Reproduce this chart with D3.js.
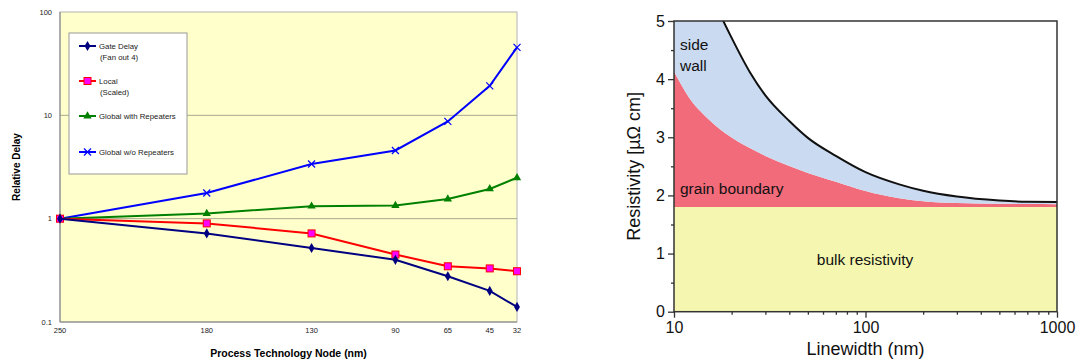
<!DOCTYPE html>
<html>
<head>
<meta charset="utf-8">
<script src="https://cdn.jsdelivr.net/npm/d3@7"></script>
<style>
  body { margin: 0; background: #fff; }
  text { font-family: "Liberation Sans", Arial, sans-serif; }
</style>
</head>
<body>
<div id="chart"></div>
<script>
// left panel: relative delay vs process node
let nodes = [250, 180, 130, 90, 65, 45, 32];
let gateDelay = [1, 0.72, 0.52, 0.40, 0.277, 0.20, 0.14];
let localScaled = [1, 0.9, 0.72, 0.45, 0.346, 0.33, 0.31];
let globalRep = [1, 1.12, 1.32, 1.34, 1.55, 1.94, 2.49];
let globalNoRep = [1, 1.77, 3.38, 4.57, 8.73, 19.3, 45.5];
let delayTicks = [0.1, 1, 10, 100];

// right panel: resistivity vs linewidth (components, stacked)
let widths = [10, 12, 15, 20, 25, 30, 40, 50, 70, 100, 150, 200, 300, 500, 700, 1000];
let bulk = [1.8, 1.8, 1.8, 1.8, 1.8, 1.8, 1.8, 1.8, 1.8, 1.8, 1.8, 1.8, 1.8, 1.8, 1.8, 1.8];
let grainBoundary = [2.33, 1.88, 1.525, 1.195, 1.01, 0.88, 0.707, 0.587, 0.435, 0.275, 0.15, 0.10, 0.068, 0.056, 0.052, 0.05];
let sideWall = [2.9, 2.68, 2.255, 1.715, 1.30, 1.04, 0.773, 0.603, 0.445, 0.325, 0.24, 0.18, 0.112, 0.056, 0.038, 0.038];
let resTicks = [0, 1, 2, 3, 4, 5];
let widthTicks = [10, 100, 1000];

let svg = d3.select("#chart").append("svg")
    .attr("width", 1079)
    .attr("height", 362);

// ---------- left chart ----------
let L = { left: 60, right: 517, top: 12, bottom: 322 };
let xL = d3.scaleLinear().domain([250, 32]).range([L.left, L.right]);
let yL = d3.scaleLog().domain([0.1, 100]).range([L.bottom, L.top]);

let gl = svg.append("g");
gl.append("rect")
    .attr("x", L.left).attr("y", L.top)
    .attr("width", L.right - L.left).attr("height", L.bottom - L.top)
    .attr("fill", "#ffffcc")
    .attr("stroke", "#b4b4b4")
    .attr("stroke-width", 1);

// gridlines at 1 and 10
gl.selectAll(".grid").data([1, 10]).enter().append("line")
    .attr("x1", L.left).attr("x2", L.right)
    .attr("y1", d => yL(d)).attr("y2", d => yL(d))
    .attr("stroke", "#a8a890")
    .attr("stroke-width", 1);

// axes lines
gl.append("line").attr("x1", L.left).attr("x2", L.left).attr("y1", L.top).attr("y2", L.bottom)
    .attr("stroke", "#808080");
gl.append("line").attr("x1", L.left).attr("x2", L.right).attr("y1", L.bottom).attr("y2", L.bottom)
    .attr("stroke", "#808080");

gl.selectAll(".ylab").data(delayTicks).enter().append("text")
    .attr("x", L.left - 8).attr("y", d => yL(d))
    .attr("dy", "0.35em")
    .attr("text-anchor", "end")
    .attr("font-size", "7.5px")
    .attr("fill", "#222")
    .text(d => d);

gl.selectAll(".xlab").data(nodes).enter().append("text")
    .attr("x", d => xL(d)).attr("y", 330)
    .attr("dy", "0.35em")
    .attr("text-anchor", "middle")
    .attr("font-size", "7.5px")
    .attr("fill", "#222")
    .text(d => d);

gl.append("text")
    .attr("x", (L.left + L.right) / 2).attr("y", 357)
    .attr("text-anchor", "middle")
    .attr("font-size", "10.5px").attr("font-weight", "bold")
    .text("Process Technology Node (nm)");

gl.append("text")
    .attr("transform", `translate(20,${(L.top + L.bottom) / 2}) rotate(-90)`)
    .attr("text-anchor", "middle")
    .attr("font-size", "10px").attr("font-weight", "bold")
    .text("Relative Delay");

let seriesL = [
  { name: ["Gate Delay", "(Fan out 4)"], values: gateDelay, color: "#000080", marker: "diamond" },
  { name: ["Local", "(Scaled)"], values: localScaled, color: "#ff0000", marker: "square" },
  { name: ["Global with Repeaters"], values: globalRep, color: "#008000", marker: "triangle" },
  { name: ["Global w/o Repeaters"], values: globalNoRep, color: "#0000ff", marker: "cross" }
];

let lineL = d3.line()
    .x((d, i) => xL(nodes[i]))
    .y(d => yL(d));

function drawMarker(g, s, x, y) {
  if (s.marker === "diamond") {
    g.append("path").attr("d", d3.symbol(d3.symbolDiamond, 30)())
      .attr("transform", `translate(${x},${y})`).attr("fill", s.color);
  } else if (s.marker === "square") {
    g.append("rect").attr("x", x - 3.5).attr("y", y - 3.5).attr("width", 7).attr("height", 7)
      .attr("fill", "#ff00ff").attr("stroke", "#ff0000").attr("stroke-width", 1);
  } else if (s.marker === "triangle") {
    g.append("path").attr("d", d3.symbol(d3.symbolTriangle, 30)())
      .attr("transform", `translate(${x},${y})`).attr("fill", s.color);
  } else {
    g.append("path").attr("d", `M${x - 3.5},${y - 3.5}L${x + 3.5},${y + 3.5}M${x - 3.5},${y + 3.5}L${x + 3.5},${y - 3.5}`)
      .attr("stroke", s.color).attr("stroke-width", 1.2);
  }
}

// draw in reverse so gate delay ends up on top
seriesL.slice().reverse().forEach(s => {
  let g = gl.append("g");
  g.append("path").datum(s.values)
    .attr("d", lineL)
    .attr("fill", "none")
    .attr("stroke", s.color)
    .attr("stroke-width", 2);
  s.values.forEach((v, i) => drawMarker(g, s, xL(nodes[i]), yL(v)));
});

// legend
let lg = gl.append("g");
lg.append("rect")
    .attr("x", 69).attr("y", 33).attr("width", 118).attr("height", 141)
    .attr("fill", "#fff").attr("stroke", "#999");
let legY = [46, 81, 116, 152];
seriesL.forEach((s, i) => {
  let y = legY[i];
  lg.append("line").attr("x1", 79).attr("x2", 96).attr("y1", y).attr("y2", y)
    .attr("stroke", s.color).attr("stroke-width", 2);
  drawMarker(lg, s, 87.5, y);
  s.name.forEach((t, j) => {
    lg.append("text")
      .attr("x", j === 0 ? 99 : 100).attr("y", y + j * 11)
      .attr("dy", "0.35em")
      .attr("font-size", "7.8px")
      .attr("fill", "#222")
      .text(t);
  });
});

// ---------- right chart ----------
let R = { left: 674, right: 1057, top: 21, bottom: 311.7 };
let xR = d3.scaleLog().domain([10, 1000]).range([R.left, R.right]);
let yR = d3.scaleLinear().domain([0, 5]).range([R.bottom, R.top]);

let gr = svg.append("g");
gr.append("clipPath").attr("id", "clipR").append("rect")
    .attr("x", R.left).attr("y", R.top)
    .attr("width", R.right - R.left).attr("height", R.bottom - R.top);

let table = widths.map((w, i) => ({ w: w, bulk: bulk[i], grain: grainBoundary[i], side: sideWall[i] }));
let stack = d3.stack().keys(["bulk", "grain", "side"]);
let layers = stack(table);
let fills = { bulk: "#f5f7b0", grain: "#f26b7b", side: "#cadaf0" };

let area = d3.area()
    .x(d => xR(d.data.w))
    .y0(d => yR(d[0]))
    .y1(d => yR(d[1]))
    .curve(d3.curveMonotoneX);

let plotR = gr.append("g").attr("clip-path", "url(#clipR)");
plotR.selectAll(".layer").data(layers).enter().append("path")
    .attr("d", area)
    .attr("fill", d => fills[d.key]);

let topLine = d3.line()
    .x(d => xR(d.data.w))
    .y(d => yR(d[1]))
    .curve(d3.curveMonotoneX);
plotR.append("path").datum(layers[2])
    .attr("d", topLine)
    .attr("fill", "none")
    .attr("stroke", "#111")
    .attr("stroke-width", 2);

// frame
gr.append("rect")
    .attr("x", R.left).attr("y", R.top)
    .attr("width", R.right - R.left).attr("height", R.bottom - R.top)
    .attr("fill", "none")
    .attr("stroke", "#333")
    .attr("stroke-width", 1.5);

let yAxisR = d3.axisLeft(yR).tickValues(d3.range(0, 5.01, 0.5)).tickSize(6)
    .tickFormat(d => resTicks.includes(d) ? d : "");
let gy = gr.append("g").attr("transform", `translate(${R.left},0)`).call(yAxisR);
gy.select(".domain").remove();
gy.selectAll(".tick line").attr("stroke", "#333").attr("stroke-width", 1.3)
    .attr("x2", d => resTicks.includes(d) ? -6 : -3);
gy.selectAll(".tick text").attr("font-size", "16px").attr("fill", "#111")
    .attr("font-family", "Liberation Sans, Arial, sans-serif").attr("x", -9);

let minorW = [];
[10, 100].forEach(b => { for (let k = 2; k <= 9; k++) minorW.push(b * k); });
let xAxisR = d3.axisBottom(xR).tickValues(widthTicks.concat(minorW)).tickSize(6)
    .tickFormat(d => widthTicks.includes(d) ? d : "");
let gx = gr.append("g").attr("transform", `translate(0,${R.bottom})`).call(xAxisR);
gx.select(".domain").remove();
gx.selectAll(".tick line").attr("stroke", "#333").attr("stroke-width", 1.3)
    .attr("y2", d => widthTicks.includes(d) ? 6 : 3);
gx.selectAll(".tick text").attr("font-size", "16px").attr("fill", "#111")
    .attr("font-family", "Liberation Sans, Arial, sans-serif").attr("y", 10);

gr.append("text")
    .attr("x", (R.left + R.right) / 2).attr("y", 355)
    .attr("text-anchor", "middle")
    .attr("font-size", "18px").attr("fill", "#111")
    .text("Linewidth (nm)");

gr.append("text")
    .attr("transform", `translate(640,${(R.top + R.bottom) / 2}) rotate(-90)`)
    .attr("text-anchor", "middle")
    .attr("font-size", "18px").attr("fill", "#111")
    .text("Resistivity [\u00b5\u03a9 cm]");

// region labels
let regionLabels = [
  { t: "side", x: 680, y: 50, a: "start" },
  { t: "wall", x: 680, y: 71, a: "start" },
  { t: "grain boundary", x: 680, y: 194, a: "start" },
  { t: "bulk resistivity", x: 865, y: 265, a: "middle" }
];
gr.selectAll(".rl").data(regionLabels).enter().append("text")
    .attr("x", d => d.x).attr("y", d => d.y)
    .attr("text-anchor", d => d.a)
    .attr("font-size", "15.5px").attr("fill", "#111")
    .text(d => d.t);
</script>
</body>
</html>
